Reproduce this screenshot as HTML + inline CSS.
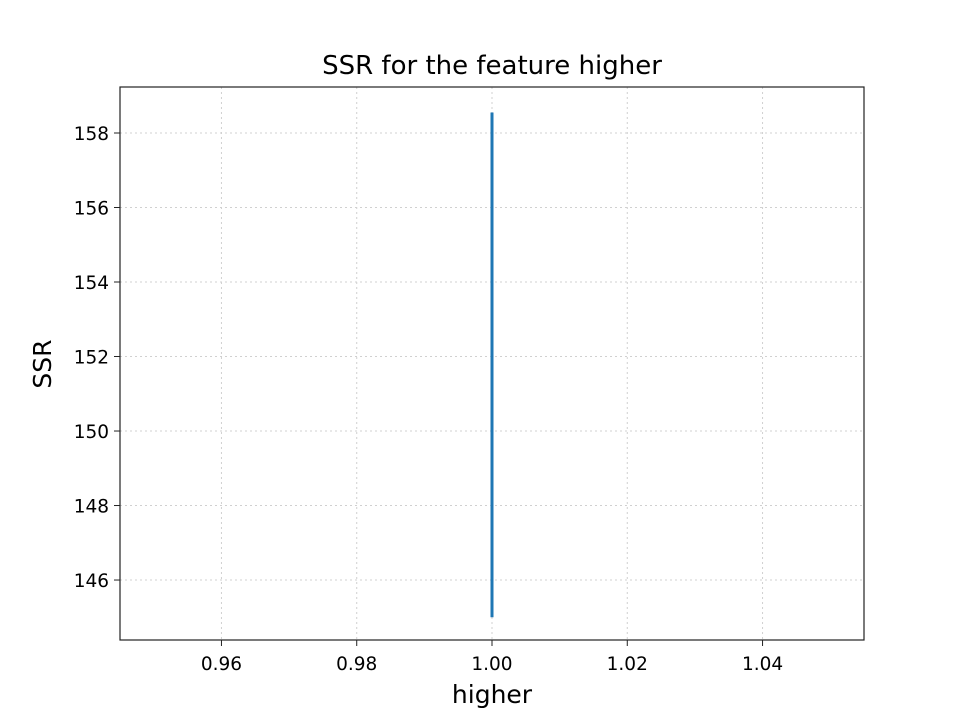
<!DOCTYPE html>
<html><head><meta charset="utf-8"><style>
body{margin:0;background:#fff;font-family:"Liberation Sans","DejaVu Sans",sans-serif;}
svg text{font-family:"DejaVu Sans","Liberation Sans",sans-serif;}
</style></head><body>
<svg id="chart" width="960" height="720">
<rect width="960" height="720" fill="#fff"/>
<g id="grid"></g><g id="ticks"></g><g id="series"></g>
<rect x="120" y="87" width="744" height="553" fill="none" stroke="#222" stroke-width="1.2"/>
<text x="492" y="74" font-size="26" text-anchor="middle">SSR for the feature higher</text>
<text x="492" y="703" font-size="25" text-anchor="middle">higher</text>
<text x="51" y="364" font-size="25" text-anchor="middle" transform="rotate(-90 51 364)">SSR</text>
</svg>
<script>
const xTicks=[0.96,0.98,1.00,1.02,1.04];
const xTickLabels=["0.96","0.98","1.00","1.02","1.04"];
const yTicks=[146,148,150,152,154,156,158];
const yTickLabels=["146","148","150","152","154","156","158"];
const xValues=[1,1,1,1,1,1,1,1];
const ssrValues=[158.55,157.2,155.4,153.6,152.1,150.5,148.4,145.0];
const X0=120,X1=864,Y0=87,Y1=640,xmin=0.945,xmax=1.055,ymin=144.39,ymax=159.235;
const sx=v=>X0+(v-xmin)/(xmax-xmin)*(X1-X0);
const sy=v=>Y1-(v-ymin)/(ymax-ymin)*(Y1-Y0);
const NS="http://www.w3.org/2000/svg";
const g=document.getElementById('grid'),t=document.getElementById('ticks'),s=document.getElementById('series');
function mk(p,tag,a){const e=document.createElementNS(NS,tag);for(const k in a)e.setAttribute(k,a[k]);p.appendChild(e);return e;}
xTicks.forEach((v,i)=>{const x=sx(v);
 const gl=mk(g,'line',{x1:x,x2:x,y1:Y0,y2:Y1,stroke:'#d0d0d0','stroke-dasharray':'2,3'});
 
 
 const tk=mk(t,'line',{x1:x,x2:x,y1:Y1,y2:Y1+6,stroke:'#222'});
 
 
 const tx=mk(t,'text',{x:x,y:Y1+30,'font-size':'18.5','text-anchor':'middle'});tx.textContent=xTickLabels[i];
 
 
});
yTicks.forEach((v,i)=>{const y=sy(v);
 const gl=mk(g,'line',{x1:X0,x2:X1,y1:y,y2:y,stroke:'#d0d0d0','stroke-dasharray':'2,3'});
 
 
 const tk=mk(t,'line',{x1:X0-6,x2:X0,y1:y,y2:y,stroke:'#222'});
 
 
 const tx=mk(t,'text',{x:X0-11,y:y+7,'font-size':'18.5','text-anchor':'end'});tx.textContent=yTickLabels[i];
 
 
});
const pts=xValues.map((v,i)=>sx(v)+','+sy(ssrValues[i])).join(' ');
const pl=mk(s,'polyline',{points:pts,fill:'none',stroke:'#1f77b4','stroke-width':'3'});


</script>
</body></html>
